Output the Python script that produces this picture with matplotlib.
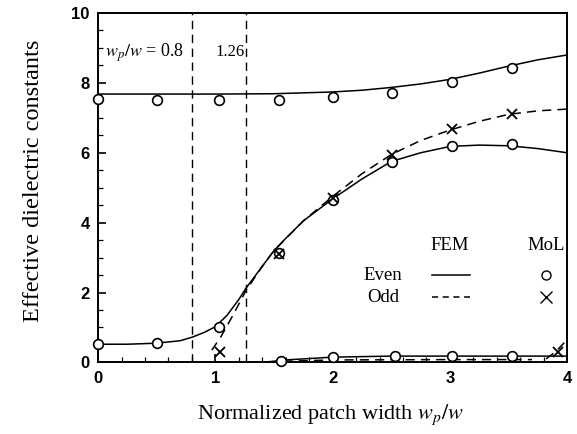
import matplotlib.pyplot as plt
import numpy as np

#%% Dados

# FEM - curvas (modo par = linha cheia, modo impar = tracejada)
x_par1 = [0, 0.5, 1.0, 1.5, 2.0, 2.25, 2.5, 2.75, 3.0, 3.25, 3.5, 3.75, 4.0]
y_par1 = [7.68, 7.68, 7.68, 7.69, 7.74, 7.79, 7.87, 7.97, 8.1, 8.28, 8.48, 8.66, 8.8]

x_par2 = [0, 0.25, 0.5, 0.7, 0.8, 0.9, 1.0, 1.1, 1.2, 1.26, 1.4, 1.5, 1.6, 1.75,
          2.0, 2.25, 2.5, 2.75, 3.0, 3.25, 3.5, 3.75, 4.0]
y_par2 = [0.52, 0.52, 0.55, 0.62, 0.72, 0.85, 1.02, 1.35, 1.8, 2.12, 2.75, 3.2, 3.55, 4.05,
          4.68, 5.25, 5.75, 6.0, 6.18, 6.22, 6.2, 6.12, 6.0]

x_par3 = [1.42, 1.6, 2.0, 2.5, 3.0, 3.5, 4.0]
y_par3 = [0.0, 0.07, 0.15, 0.18, 0.18, 0.18, 0.18]

x_impar1 = [0.97, 1.05, 1.15, 1.26, 1.4, 1.5, 1.75, 2.0, 2.25, 2.5, 2.75, 3.0, 3.25, 3.5, 3.75, 4.0]
y_impar1 = [0.35, 0.75, 1.35, 2.05, 2.75, 3.2, 4.05, 4.75, 5.4, 5.95, 6.35, 6.65, 6.9, 7.1, 7.2, 7.25]

x_impar2 = [1.45, 2.0, 3.0, 3.7]
y_impar2 = [0.02, 0.07, 0.08, 0.08]

x_impar3 = [3.82, 3.9, 4.0]
y_impar3 = [0.1, 0.3, 0.65]

# MoL - pontos
x_mol_par1 = [0, 0.5, 1.03, 1.54, 2.0, 2.51, 3.02, 3.53]
y_mol_par1 = [7.55, 7.52, 7.52, 7.52, 7.6, 7.72, 8.02, 8.42]
x_mol_par2 = [0, 0.5, 1.03, 1.54, 2.0, 2.51, 3.02, 3.53]
y_mol_par2 = [0.52, 0.56, 1.02, 3.12, 4.66, 5.75, 6.18, 6.24]
x_mol_par3 = [1.56, 2.0, 2.53, 3.02, 3.53]
y_mol_par3 = [0.05, 0.15, 0.18, 0.18, 0.18]
x_mol_impar = [1.04, 1.54, 2.0, 2.51, 3.02, 3.53, 3.92]
y_mol_impar = [0.3, 3.1, 4.7, 5.95, 6.68, 7.12, 0.3]

cortes = [0.8, 1.26]

#%% Gráfico

serif = 'Liberation Serif'
sans = 'Liberation Sans'

fig = plt.figure(figsize=(5.77, 4.34), dpi=100)
ax = fig.add_axes([0.170, 0.165, 0.813, 0.805])

lw = 1.1
for xs, ys in [(x_par1, y_par1), (x_par2, y_par2), (x_par3, y_par3)]:
    ax.plot(xs, ys, color='black', linewidth=lw, linestyle='-')
for xs, ys in [(x_impar1, y_impar1), (x_impar2, y_impar2), (x_impar3, y_impar3)]:
    ax.plot(xs, ys, color='black', linewidth=lw, dashes=(6, 4))

for c in cortes:
    ax.axvline(c, color='black', linewidth=1.0, dashes=(6, 4))

for xs, ys in [(x_mol_par1, y_mol_par1), (x_mol_par2, y_mol_par2), (x_mol_par3, y_mol_par3)]:
    ax.plot(xs, ys, linestyle='none', marker='o', markersize=7, markerfacecolor='white',
            markeredgecolor='black', markeredgewidth=1.2, clip_on=False, zorder=3)
ax.plot(x_mol_impar, y_mol_impar, linestyle='none', marker='x', markersize=7,
        markeredgecolor='black', markeredgewidth=1.3, zorder=4)

# legenda manual
fs_leg = 13.5
ax.text(3.0, 3.36, 'FEM', family=serif, fontsize=fs_leg, ha='center', va='center')
ax.text(3.82, 3.36, 'MoL', family=serif, fontsize=fs_leg, ha='center', va='center')
ax.text(2.43, 2.5, 'Even', family=serif, fontsize=fs_leg, ha='center', va='center')
ax.text(2.43, 1.87, 'Odd', family=serif, fontsize=fs_leg, ha='center', va='center')
ax.plot([2.85, 3.17], [2.5, 2.5], color='black', linewidth=lw)
ax.plot([2.85, 3.17], [1.87, 1.87], color='black', linewidth=lw, dashes=(4, 3))
ax.plot([3.82], [2.5], marker='o', markersize=6.5, markerfacecolor='white',
        markeredgecolor='black', markeredgewidth=1.0)
ax.plot([3.82], [1.87], marker='x', markersize=8, markeredgecolor='black', markeredgewidth=1.0)

ax.text(0.06, 8.87, r'$w_p/w$ = 0.8', family=serif, fontsize=13, ha='left', va='center',
        math_fontfamily='stix')
ax.text(1.0, 8.87, '1.26', family=serif, fontsize=12, ha='left', va='center')

ax.set_xlim(0, 4)
ax.set_ylim(0, 10)
ax.set_xticks([0, 1, 2, 3, 4])
ax.set_yticks([0, 2, 4, 6, 8, 10])
ax.set_xticks(np.arange(0, 4.01, 0.2), minor=True)
ax.set_yticks(np.arange(0, 10.01, 0.5), minor=True)
ax.tick_params(which='both', direction='in', top=False, right=False)
ax.tick_params(which='major', length=6, width=1.2, pad=6)
ax.tick_params(which='minor', length=3.5, width=0.9)
for lab in ax.get_xticklabels() + ax.get_yticklabels():
    lab.set_family(sans)
    lab.set_fontweight('bold')
    lab.set_fontsize(12)
for s in ax.spines.values():
    s.set_linewidth(1.4)

ax.set_xlabel(r'Normalized patch width $w_p/w$', family=serif, fontsize=16,
              math_fontfamily='stix')
ax.set_ylabel('Effective dielectric constants', family=serif, fontsize=17.5)
ax.xaxis.set_label_coords(0.495, -0.115)
ax.yaxis.set_label_coords(-0.115, 0.52)

plt.savefig('out.png', dpi=100)
